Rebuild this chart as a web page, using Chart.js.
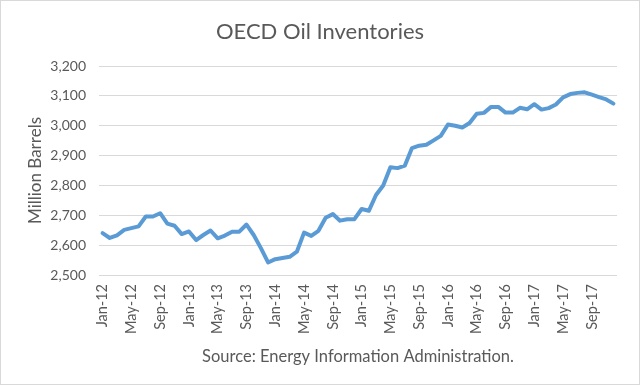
<!DOCTYPE html>
<html>
<head>
<meta charset="utf-8">
<script src="https://cdn.jsdelivr.net/npm/chart.js@4"></script>
<style>
  html, body { margin: 0; padding: 0; background: #ffffff; }
  #wrap { width: 640px; height: 385px; position: relative; }
</style>
</head>
<body>
<div id="wrap"><canvas id="c" width="640" height="385"></canvas></div>
<script>
const categories = [
  "Jan-12","Feb-12","Mar-12","Apr-12","May-12","Jun-12","Jul-12","Aug-12","Sep-12","Oct-12","Nov-12","Dec-12",
  "Jan-13","Feb-13","Mar-13","Apr-13","May-13","Jun-13","Jul-13","Aug-13","Sep-13","Oct-13","Nov-13","Dec-13",
  "Jan-14","Feb-14","Mar-14","Apr-14","May-14","Jun-14","Jul-14","Aug-14","Sep-14","Oct-14","Nov-14","Dec-14",
  "Jan-15","Feb-15","Mar-15","Apr-15","May-15","Jun-15","Jul-15","Aug-15","Sep-15","Oct-15","Nov-15","Dec-15",
  "Jan-16","Feb-16","Mar-16","Apr-16","May-16","Jun-16","Jul-16","Aug-16","Sep-16","Oct-16","Nov-16","Dec-16",
  "Jan-17","Feb-17","Mar-17","Apr-17","May-17","Jun-17","Jul-17","Aug-17","Sep-17","Oct-17","Nov-17","Dec-17"
];

const inventories = [
  2640, 2624, 2633, 2651, 2657, 2663, 2696, 2696, 2707, 2672, 2665, 2637,
  2646, 2617, 2634, 2649, 2623, 2632, 2645, 2645, 2669, 2634, 2590, 2542,
  2553, 2557, 2561, 2578, 2642, 2631, 2648, 2692, 2704, 2682, 2687, 2687,
  2721, 2715, 2768, 2800, 2861, 2858, 2866, 2925, 2933, 2936, 2951, 2966,
  3004, 3000, 2994, 3009, 3040, 3043, 3063, 3063, 3044, 3044, 3060, 3055,
  3072, 3054, 3059, 3071, 3095, 3106, 3110, 3112, 3104, 3096, 3088, 3074
];

const yTicks = [2500, 2600, 2700, 2800, 2900, 3000, 3100, 3200];
const titleText = "OECD Oil Inventories";
const yTitleText = "Million Barrels";
const sourceText = "Source: Energy Information Administration.";

const TEXT = "#595959";
const GRID = "#d9d9d9";
const FONT = "Lato, 'Liberation Sans', sans-serif";

const frame = {
  id: "frame",
  beforeDraw(chart) {
    const ctx = chart.ctx;
    ctx.save();
    ctx.fillStyle = "#ffffff";
    ctx.fillRect(0, 0, chart.width, chart.height);
    ctx.restore();
  },
  afterDraw(chart) {
    const ctx = chart.ctx;
    ctx.save();
    ctx.strokeStyle = GRID;
    ctx.lineWidth = 1;
    ctx.strokeRect(0.5, 0.5, chart.width - 1, chart.height - 1);
    ctx.restore();
  }
};

new Chart(document.getElementById("c"), {
  type: "line",
  data: {
    labels: categories,
    datasets: [{
      data: inventories,
      borderColor: "#5b9bd5",
      borderWidth: 4,
      pointRadius: 0,
      tension: 0,
      fill: false,
      borderJoinStyle: "round",
      borderCapStyle: "round",
      xAxisID: "x",
      yAxisID: "y"
    }]
  },
  options: {
    responsive: false,
    animation: false,
    devicePixelRatio: 1,
    layout: { padding: { left: 0, right: 0, top: 0, bottom: 0 } },
    plugins: {
      legend: { display: false },
      tooltip: { enabled: false },
      title: {
        display: true,
        text: titleText,
        color: TEXT,
        font: { family: FONT, size: 22, weight: "normal" },
        padding: { top: 19, bottom: 20.6 }
      }
    },
    scales: {
      x: {
        type: "category",
        offset: true,
        grid: { display: false, drawTicks: false },
        border: { display: false },
        ticks: {
          autoSkip: false,
          maxRotation: 90,
          minRotation: 90,
          padding: 9,
          color: TEXT,
          font: { family: FONT, size: 14.5 },
          callback(value, index) {
            return index % 4 === 0 ? categories[index] : "";
          }
        },
        title: {
          display: true,
          text: sourceText,
          color: TEXT,
          font: { family: FONT, size: 16.5 },
          padding: { top: 0, bottom: 18 }
        },
        afterFit(scale) { scale.height = 110; }
      },
      y: {
        position: "left",
        min: 2500,
        max: 3200,
        grid: { color: GRID, lineWidth: 1, drawTicks: false },
        border: { display: false },
        afterBuildTicks(scale) { scale.ticks = yTicks.map(v => ({ value: v })); },
        ticks: {
          padding: 13,
          color: TEXT,
          font: { family: FONT, size: 14 },
          callback(value) { return value.toLocaleString("en-US"); }
        },
        title: {
          display: true,
          text: yTitleText,
          color: TEXT,
          font: { family: FONT, size: 17 },
          padding: { top: 25, bottom: 0 }
        },
        afterFit(scale) { scale.width = 99; }
      },
      rightSpace: {
        type: "linear",
        position: "right",
        display: true,
        grid: { display: false, drawTicks: false },
        border: { display: false },
        ticks: { display: false },
        afterFit(scale) { scale.width = 21; }
      }
    }
  },
  plugins: [frame]
});
</script>
</body>
</html>
